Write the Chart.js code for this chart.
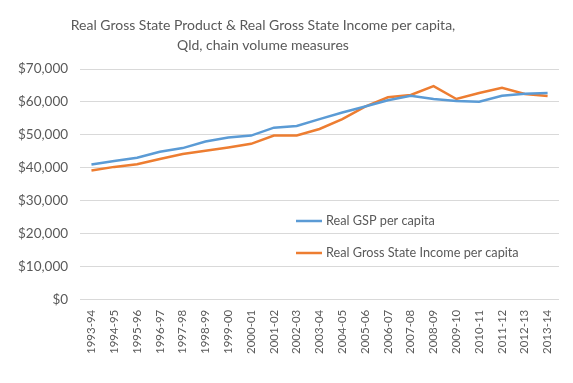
<!DOCTYPE html>
<html>
<head>
<meta charset="utf-8">
<script src="https://cdn.jsdelivr.net/npm/chart.js@4.4.1/dist/chart.umd.min.js"></script>
<style>
html,body{margin:0;padding:0;background:#fff;}
#wrap{width:573px;height:383px;}
</style>
</head>
<body>
<div id="wrap"><canvas id="c" width="573" height="383"></canvas></div>
<script>
const categories = ["1993-94","1994-95","1995-96","1996-97","1997-98","1998-99","1999-00","2000-01","2001-02","2002-03","2003-04","2004-05","2005-06","2006-07","2007-08","2008-09","2009-10","2010-11","2011-12","2012-13","2013-14"];
const gspPerCapita = [41000,42100,43100,44900,46000,48000,49200,49800,52200,52700,54800,56800,58600,60500,61900,60900,60300,60100,61900,62500,62700];
const gsiPerCapita = [39200,40300,41100,42700,44200,45200,46200,47300,49800,49800,51800,54800,58600,61400,62100,64800,60900,62700,64300,62400,61800];
const seriesLabels = ["Real GSP per capita","Real Gross State Income per capita"];
const titleLines = ["Real Gross State Product & Real Gross State Income per capita,","Qld, chain volume measures"];

const FONT = "Lato, 'Open Sans', sans-serif";

const titleAndLegend = {
  id: 'titleAndLegend',
  afterDraw(chart) {
    const ctx = chart.ctx;
    ctx.save();
    ctx.fillStyle = '#595959';
    ctx.font = "14px " + FONT;
    ctx.textAlign = 'center';
    ctx.textBaseline = 'middle';
    titleLines.forEach((t, i) => ctx.fillText(t, 263, 25 + i * 20));
    const ys = [221, 253];
    chart.data.datasets.forEach((ds, i) => {
      const y = ys[i];
      ctx.strokeStyle = ds.borderColor;
      ctx.lineWidth = 2.5;
      ctx.beginPath();
      ctx.moveTo(296, y);
      ctx.lineTo(322, y);
      ctx.stroke();
      ctx.fillStyle = '#595959';
      ctx.font = "12.7px " + FONT;
      ctx.textBaseline = 'middle';
      ctx.textAlign = 'left';
      ctx.fillText(ds.label, 326, y);
    });
    ctx.restore();
  }
};

new Chart(document.getElementById('c'), {
  type: 'line',
  data: {
    labels: categories,
    datasets: [
      {label: seriesLabels[0], data: gspPerCapita, borderColor: '#5b9bd5', backgroundColor: '#5b9bd5', borderWidth: 2.5, pointRadius: 0, tension: 0, fill: false},
      {label: seriesLabels[1], data: gsiPerCapita, borderColor: '#ed7d31', backgroundColor: '#ed7d31', borderWidth: 2.5, pointRadius: 0, tension: 0, fill: false}
    ]
  },
  options: {
    responsive: false,
    animation: false,
    layout: {padding: {left: 6, right: 14, top: 69, bottom: 19}},
    plugins: {
      legend: {display: false},
      tooltip: {enabled: false},
      title: {display: false}
    },
    scales: {
      x: {
        offset: true,
        grid: {display: false, drawTicks: false},
        border: {display: false},
        ticks: {color: '#595959', font: {family: FONT, size: 11.5}, minRotation: 90, maxRotation: 90, autoSkip: false, padding: 10}
      },
      y: {
        min: 0, max: 70000,
        grid: {color: '#d9d9d9', lineWidth: 1, drawTicks: false},
        border: {display: false},
        ticks: {stepSize: 10000, color: '#595959', font: {family: FONT, size: 13.5}, padding: 12,
          callback: v => '$' + v.toLocaleString('en-US')}
      }
    }
  },
  plugins: [titleAndLegend]
});
</script>
</body>
</html>
